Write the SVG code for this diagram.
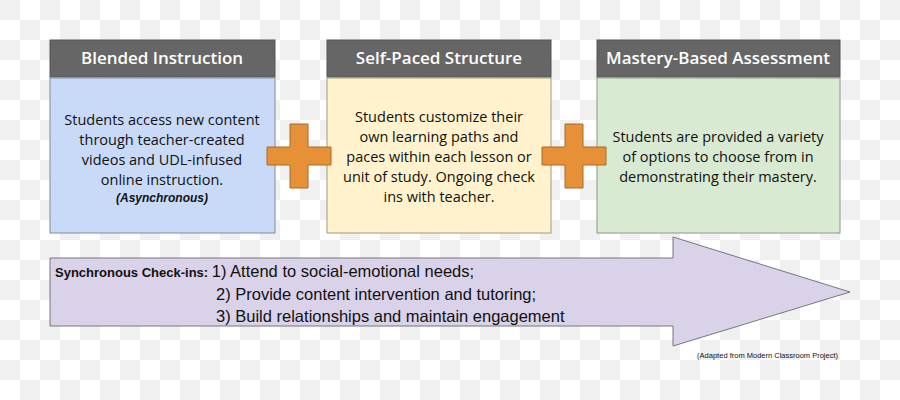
<svg xmlns="http://www.w3.org/2000/svg" width="900" height="400" viewBox="0 0 900 400">
<defs>
<pattern id="chk" width="40" height="40" patternUnits="userSpaceOnUse">
<rect width="40" height="40" fill="#ffffff"/><rect width="20" height="20" fill="#f0f0f0"/><rect x="20" y="20" width="20" height="20" fill="#f0f0f0"/>
</pattern>
</defs>
<style>
.hd{fill:#666666;stroke:#555;stroke-width:1}
.ht{font-family:"Open Sans","Liberation Sans",sans-serif;font-size:17px;font-weight:600;fill:#fff;text-anchor:middle}
.bt{font-family:"Open Sans","Liberation Sans",sans-serif;font-size:14.5px;fill:#111;text-anchor:middle}
.plus{fill:#e69138;stroke:#a86a2a;stroke-width:1}
.nar{font-family:"Liberation Sans Narrow","Liberation Sans",sans-serif;font-stretch:condensed;fill:#111}
</style>
<rect width="900" height="400" fill="url(#chk)"/>
<g id="arrow">
<polygon points="50,258 673,258 673,237 850,292 673,346 673,326 50,326" fill="#d9d2e9" stroke="#777" stroke-width="1"/>
<text class="nar" x="55" y="277" font-size="13" font-weight="bold">Synchronous Check-ins: <tspan font-size="16.5" font-weight="normal">1) Attend to social-emotional needs;</tspan></text>
<text class="nar" x="216" y="300" font-size="16.5">2) Provide content intervention and tutoring;</text>
<text class="nar" x="216" y="322" font-size="16.5">3) Build relationships and maintain engagement</text>
</g>
<g id="blended">
<rect class="hd" x="50" y="40" width="225" height="37"/>
<text class="ht" x="162" y="64">Blended Instruction</text>
<rect x="50" y="78" width="225" height="155" fill="#c9daf8" stroke="#7f8c9f"/>
<text class="bt" x="162" y="125">Students access new content</text>
<text class="bt" x="162" y="145">through teacher-created</text>
<text class="bt" x="162" y="165">videos and UDL-infused</text>
<text class="bt" x="162" y="185">online instruction.</text>
<text x="162" y="202" font-family="Liberation Sans,sans-serif" font-size="12" font-weight="bold" font-style="italic" text-anchor="middle" fill="#111">(Asynchronous)</text>
</g>
<g id="selfpaced">
<rect class="hd" x="327" y="40" width="224" height="37"/>
<text class="ht" x="439" y="64">Self-Paced Structure</text>
<rect x="327" y="78" width="224" height="155" fill="#fff2cc" stroke="#a09a80"/>
<text class="bt" x="439" y="122">Students customize their</text>
<text class="bt" x="439" y="142">own learning paths and</text>
<text class="bt" x="439" y="162">paces within each lesson or</text>
<text class="bt" x="439" y="182">unit of study. Ongoing check</text>
<text class="bt" x="439" y="202">ins with teacher.</text>
</g>
<g id="mastery">
<rect class="hd" x="597" y="40" width="243" height="37"/>
<text class="ht" x="718" y="64">Mastery-Based Assessment</text>
<rect x="597" y="78" width="243" height="155" fill="#d9ead3" stroke="#8a9a85"/>
<text class="bt" x="718" y="142">Students are provided a variety</text>
<text class="bt" x="718" y="162">of options to choose from in</text>
<text class="bt" x="718" y="182">demonstrating their mastery.</text>
</g>
<g id="plus1"><polygon class="plus" points="290,124 308,124 308,147 331,147 331,165 308,165 308,188 290,188 290,165 267,165 267,147 290,147"/></g>
<g id="plus2"><polygon class="plus" points="565,124 583,124 583,147 606,147 606,165 583,165 583,188 565,188 565,165 542,165 542,147 565,147"/></g>
<text id="credit" class="nar" x="838" y="358" font-size="7.5" text-anchor="end" fill="#333">(Adapted from Modern Classroom Project)</text>
</svg>
